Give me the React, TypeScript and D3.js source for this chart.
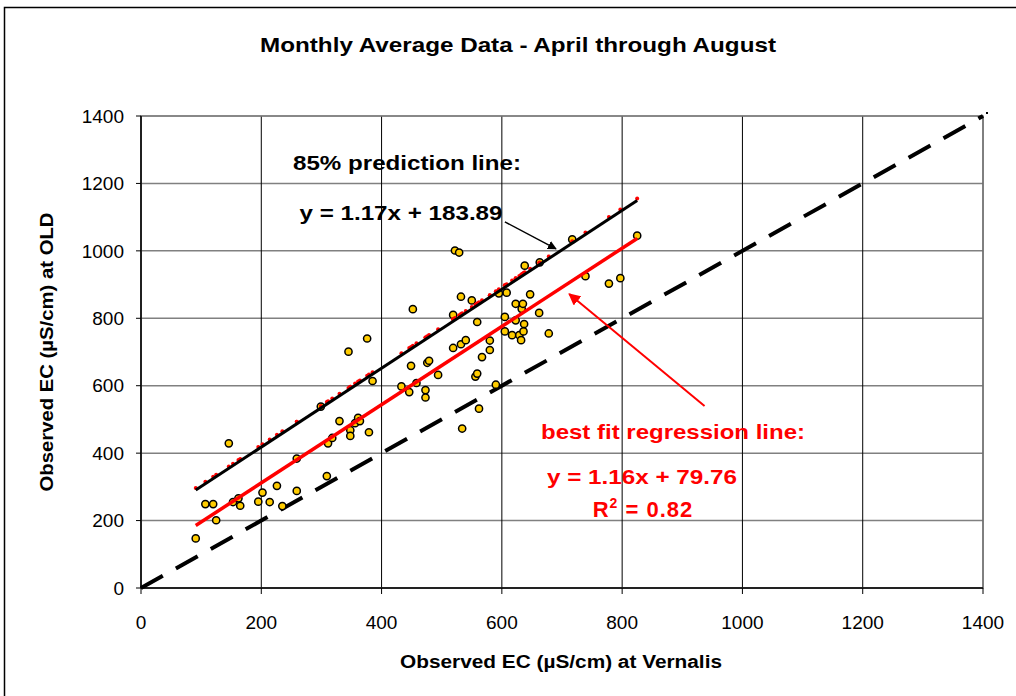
import * as React from 'react';
import * as d3 from 'd3';

// observed EC at Vernalis (x) vs OLD (y), monthly averages Apr-Aug
const vernalis = [91, 107, 120, 125, 146, 153, 162, 165, 195, 202, 214, 226, 235, 259, 259, 299, 309, 311, 318, 330,
  345, 348, 348, 356, 361, 364, 376, 379, 385, 433, 446, 449, 452, 458, 473, 473, 476, 479, 494, 519,
  519, 522, 529, 532, 532, 534, 540, 550, 556, 559, 559, 562, 567, 580, 580, 590, 595, 605, 605, 608,
  617, 623, 623, 629, 632, 633, 635, 636, 637, 638, 647, 662, 663, 678, 717, 739, 778, 797, 825];
const old = [147, 249, 249, 201, 429, 255, 266, 244, 256, 283, 255, 303, 243, 288, 384, 538, 332, 429, 445, 495,
  701, 468, 451, 489, 505, 495, 740, 462, 614, 598, 581, 659, 827, 608, 587, 565, 668, 674, 632, 810,
  712, 1001, 995, 864, 723, 473, 735, 853, 627, 636, 789, 532, 685, 734, 706, 603, 874, 804, 761, 876,
  750, 843, 794, 750, 735, 828, 843, 761, 783, 956, 871, 816, 966, 755, 1034, 925, 903, 919, 1045];

const tickValues = [0, 200, 400, 600, 800, 1000, 1200, 1400];
const fitLine = { m: 1.16, b: 79.76 };
const predLine = { m: 1.17, b: 183.89 };
const oneToOne = [0, 1400];

export default function App() {
  const width = 1016;
  const height = 696;
  const margin = { top: 116, right: 33, bottom: 108, left: 141 };

  const x = d3.scaleLinear().domain([0, 1400]).range([margin.left, width - margin.right]);
  const y = d3.scaleLinear().domain([0, 1400]).range([height - margin.bottom, margin.top]);

  const points = vernalis.map((v, i) => ({ x: v, y: old[i] }));
  const xMin = d3.min(vernalis) as number;
  const xMax = d3.max(vernalis) as number;

  const line = d3.line<number[]>().x((d) => x(d[0])).y((d) => y(d[1]));
  const fitPath = line([[xMin, fitLine.m * xMin + fitLine.b], [xMax, fitLine.m * xMax + fitLine.b]]) as string;
  const predPath = line([[xMin, predLine.m * xMin + predLine.b], [xMax, predLine.m * xMax + predLine.b]]) as string;
  const diagPath = line(oneToOne.map((v) => [v, v])) as string;

  const bold = { fontFamily: 'Liberation Sans, Arial, sans-serif', fontWeight: 'bold' as const };

  return (
    <svg width={width} height={height} style={{ position: 'absolute', left: 0, top: 0, background: '#fff' }}
      fontFamily="Liberation Sans, Arial, sans-serif">
      <defs>
        <marker id="arrBlack" viewBox="0 0 10 10" refX="9" refY="5" markerWidth="6" markerHeight="6" orient="auto">
          <path d="M0,0 L10,5 L0,10 z" fill="#000" />
        </marker>
        <marker id="arrRed" viewBox="0 0 10 10" refX="9" refY="5" markerWidth="6" markerHeight="6" orient="auto">
          <path d="M0,0 L10,5 L0,10 z" fill="#f00" />
        </marker>
      </defs>
      <rect x={4.5} y={7.5} width={1030} height={710} fill="none" stroke="#000" strokeWidth={1.5} />

      {/* grid */}
      {tickValues.map((t) => (
        <line key={'h' + t} x1={x(0)} x2={x(1400)} y1={y(t)} y2={y(t)} stroke="#808080" strokeWidth={1.5} />
      ))}
      {tickValues.map((t) => (
        <line key={'v' + t} x1={x(t)} x2={x(t)} y1={y(0)} y2={y(1400)} stroke="#000" strokeWidth={1} />
      ))}
      <rect x={x(0)} y={y(1400)} width={x(1400) - x(0)} height={y(0) - y(1400)} fill="none" stroke="#808080" strokeWidth={1.5} />

      {/* axes */}
      <line x1={x(0)} x2={x(0)} y1={y(0)} y2={y(1400)} stroke="#000" strokeWidth={1.5} />
      <line x1={x(0)} x2={x(1400)} y1={y(0)} y2={y(0)} stroke="#000" strokeWidth={1.5} />
      {tickValues.map((t) => (
        <g key={'ty' + t}>
          <line x1={x(0) - 5} x2={x(0)} y1={y(t)} y2={y(t)} stroke="#000" />
          <text x={x(0) - 17} y={y(t)} dy="0.35em" textAnchor="end" fontSize={19}>{t}</text>
        </g>
      ))}
      {tickValues.map((t) => (
        <g key={'tx' + t}>
          <line x1={x(t)} x2={x(t)} y1={y(0)} y2={y(0) + 6} stroke="#000" />
          <text x={x(t)} y={y(0) + 34} dy="0.35em" textAnchor="middle" fontSize={19}>{t}</text>
        </g>
      ))}

      {/* 1:1 line */}
      <path d={diagPath} fill="none" stroke="#000" strokeWidth={4} strokeDasharray="25 15" />
      <rect x={x(1400) + 3} y={y(1400) - 4} width={2} height={2} fill="#000" />

      {/* observed points */}
      {points.map((p, i) => (
        <circle key={'p' + i} cx={x(p.x)} cy={y(p.y)} r={3.6} fill="#FFCC00" stroke="#000" strokeWidth={1.5} />
      ))}

      {/* 85% prediction markers */}
      {vernalis.map((v, i) => (
        <circle key={'r' + i} cx={x(v)} cy={y(predLine.m * v + predLine.b) - 2} r={2} fill="#f00" />
      ))}
      <path d={predPath} fill="none" stroke="#000" strokeWidth={3} />
      <path d={fitPath} fill="none" stroke="#f00" strokeWidth={3.5} />

      {/* annotations */}
      <line x1={x(605)} y1={y(1086)} x2={x(690)} y2={y(1006)} stroke="#000" strokeWidth={1.5} markerEnd="url(#arrBlack)" />
      <line x1={x(937)} y1={y(540)} x2={x(712)} y2={y(872)} stroke="#f00" strokeWidth={2} markerEnd="url(#arrRed)" />

      <text x={407} y={163} dy="0.35em" textAnchor="middle" textLength={228} lengthAdjust="spacingAndGlyphs" style={{ ...bold, fontSize: 21 }}>85% prediction line:</text>
      <text x={401} y={213} dy="0.35em" textAnchor="middle" textLength={203} lengthAdjust="spacingAndGlyphs" style={{ ...bold, fontSize: 21 }}>y = 1.17x + 183.89</text>
      <text x={673} y={432} dy="0.35em" textAnchor="middle" fill="#f00" textLength={264} lengthAdjust="spacingAndGlyphs" style={{ ...bold, fontSize: 21 }}>best fit regression line:</text>
      <text x={642} y={477} dy="0.35em" textAnchor="middle" fill="#f00" textLength={190} lengthAdjust="spacingAndGlyphs" style={{ ...bold, fontSize: 21 }}>y = 1.16x + 79.76</text>
      <text x={643} y={509} dy="0.35em" textAnchor="middle" fill="#f00" letterSpacing={1} style={{ ...bold, fontSize: 22 }}>
        R<tspan dy="-9" fontSize={14}>2</tspan><tspan dy="9"> = 0.82</tspan>
      </text>

      <text x={518} y={45} dy="0.35em" textAnchor="middle" textLength={516} lengthAdjust="spacingAndGlyphs" style={{ ...bold, fontSize: 21 }}>Monthly Average Data - April through August</text>
      <text x={561} y={662} dy="0.35em" textAnchor="middle" textLength={322} lengthAdjust="spacingAndGlyphs" style={{ ...bold, fontSize: 18 }}>Observed EC (µS/cm) at Vernalis</text>
      <text transform="translate(47,352) rotate(-90)" dy="0.35em" textAnchor="middle" textLength={279} lengthAdjust="spacingAndGlyphs" style={{ ...bold, fontSize: 18 }}>Observed EC (µS/cm) at OLD</text>
    </svg>
  );
}
